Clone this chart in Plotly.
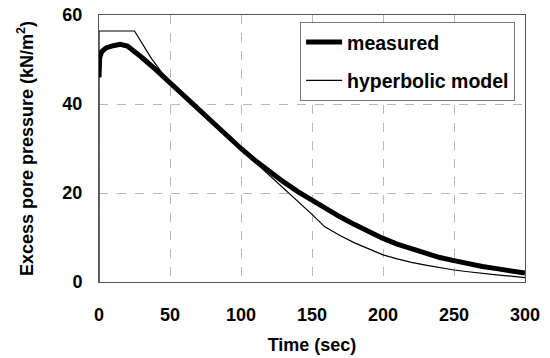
import plotly.graph_objects as go

# Measured excess pore pressure (kN/m^2) vs time (sec)
measured_t = [0, 0.5, 2, 5, 10, 15, 20, 25, 30, 40, 50, 60, 70, 80, 90, 100, 110, 120, 130,
              140, 150, 160, 170, 180, 190, 200, 210, 220, 230, 240, 250, 260, 270, 280, 290, 300]
measured_u = [46.0, 50.5, 51.8, 52.6, 53.1, 53.4, 53.0, 51.9, 50.5, 47.7, 44.7, 41.8, 38.9, 36.0,
              33.0, 30.0, 27.3, 24.8, 22.5, 20.3, 18.3, 16.4, 14.6, 12.9, 11.3, 9.8, 8.5, 7.4,
              6.4, 5.5, 4.8, 4.1, 3.5, 3.0, 2.5, 2.0]

# Hyperbolic model prediction
model_t = [0, 0, 25, 37, 50, 60, 70, 80, 90, 100, 110, 120, 130, 140, 150, 159, 170, 180, 190,
           200, 210, 220, 230, 240, 250, 260, 270, 280, 290, 300]
model_u = [0, 56.4, 56.4, 50.2, 44.6, 41.7, 38.8, 35.9, 32.9, 29.9, 26.9, 24.0, 21.0, 18.0,
           15.2, 12.4, 10.4, 8.8, 7.4, 6.1, 5.2, 4.4, 3.8, 3.2, 2.7, 2.3, 1.9, 1.6, 1.3, 1.0]

x_ticks = [0, 50, 100, 150, 200, 250, 300]
y_ticks = [0, 20, 40, 60]

font_family = "Liberation Sans, Arial, sans-serif"

fig = go.Figure()
fig.add_trace(go.Scatter(x=measured_t, y=measured_u, mode="lines", name="<b>measured</b>",
                         line=dict(color="black", width=5), legendgroup="a"))
fig.add_trace(go.Scatter(x=model_t, y=model_u, mode="lines", name="<b>hyperbolic model</b>",
                         line=dict(color="black", width=1.2), legendgroup="b"))

axis_common = dict(
    showline=True, linecolor="#555", linewidth=1, mirror=True,
    showgrid=True, gridcolor="#b8b8b8", gridwidth=1, griddash="dash",
    zeroline=False, ticks="", automargin=False,
    tickfont=dict(family=font_family, size=18, color="black", weight="bold"),
)

fig.update_xaxes(range=[0, 300], tickvals=x_ticks, ticklabelstandoff=16,
                 title=dict(text="<b>Time (sec)</b>", standoff=14,
                            font=dict(family=font_family, size=18, color="black")),
                 **axis_common)
fig.update_yaxes(range=[0, 60], tickvals=y_ticks, ticklabelstandoff=12,
                 title=dict(text="<b>Excess pore pressure (kN/m<sup>2</sup>)</b>", standoff=24,
                            font=dict(family=font_family, size=18, color="black")),
                 **axis_common)

fig.update_layout(
    width=550, height=358,
    margin=dict(l=99, r=25, t=15, b=76),
    plot_bgcolor="white", paper_bgcolor="white",
    font=dict(family=font_family, size=18, color="black"),
    legend=dict(x=0.472, y=0.974, xanchor="left", yanchor="top",
                bgcolor="white", bordercolor="#777", borderwidth=1,
                font=dict(family=font_family, size=19.5, color="black"),
                itemwidth=36,
                traceorder="grouped", tracegroupgap=10),
    showlegend=True,
)

fig.write_html("out.html")
